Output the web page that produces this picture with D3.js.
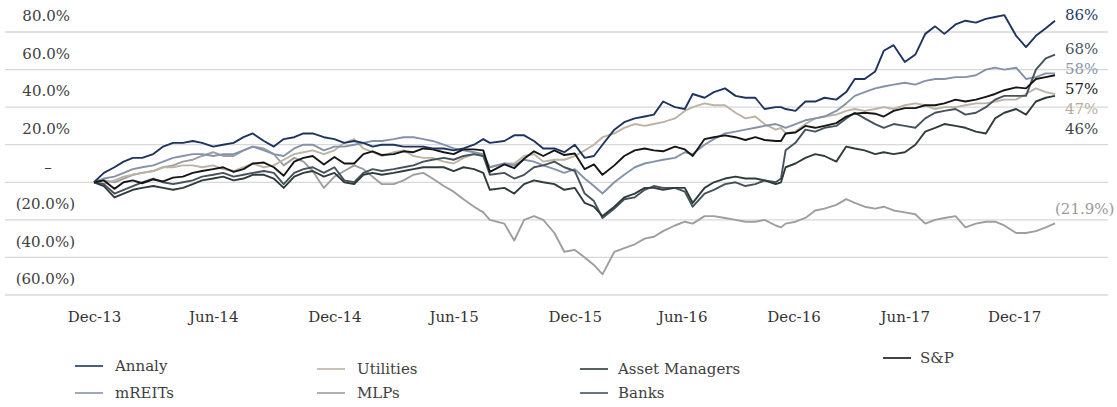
<!DOCTYPE html>
<html><head><meta charset="utf-8">
<script src="https://cdn.jsdelivr.net/npm/d3@7/dist/d3.min.js"></script>
<style>
body{margin:0;background:#fff}
svg{display:block}
text{font-family:"DejaVu Serif",serif;font-size:15px}
</style>
</head><body>
<svg id="chart" width="1117" height="407"></svg>
<script>
// ---------- data ----------
const dates = [
"2013-12-31","2014-01-15","2014-01-31","2014-02-14","2014-02-28","2014-03-14","2014-03-31","2014-04-15","2014-04-30","2014-05-15","2014-05-30","2014-06-13","2014-06-30","2014-07-15","2014-07-31","2014-08-15","2014-08-29","2014-09-15","2014-09-30","2014-10-15","2014-10-31","2014-11-14","2014-11-28","2014-12-15","2014-12-31",
"2015-01-15","2015-01-30","2015-02-13","2015-02-27","2015-03-13","2015-03-31","2015-04-15","2015-04-30","2015-05-15","2015-05-29","2015-06-15","2015-06-30","2015-07-15","2015-07-31","2015-08-14","2015-08-24","2015-09-15","2015-09-30","2015-10-15","2015-10-30","2015-11-13","2015-11-30","2015-12-15","2015-12-31",
"2016-01-15","2016-01-29","2016-02-11","2016-02-29","2016-03-15","2016-03-31","2016-04-15","2016-04-29","2016-05-13","2016-05-31","2016-06-15","2016-06-27","2016-07-15","2016-07-29","2016-08-15","2016-08-31","2016-09-15","2016-09-30","2016-10-14","2016-10-31","2016-11-08","2016-11-15","2016-11-30","2016-12-15","2016-12-30",
"2017-01-13","2017-01-31","2017-02-15","2017-02-28","2017-03-15","2017-03-31","2017-04-13","2017-04-28","2017-05-15","2017-05-31","2017-06-15","2017-06-30","2017-07-14","2017-07-31","2017-08-15","2017-08-31","2017-09-15","2017-09-29","2017-10-13","2017-10-31","2017-11-15","2017-11-30","2017-12-15","2017-12-29"
];

const annaly = [
0,5,8,11,13,13,15,19,21,21,22,21,19,20,21,24,26,22,19,23,24,26,26,24,23,
21,22,21,19,20,20,19,19,19,18,18,17,18,20,23,21,22,25,25,22,18,18,16,20,
13,14,20,28,32,34,35,36,43,40,39,47,45,48,50,46,45,45,39,40,40,39,38,43,43,
45,44,48,55,55,59,70,73,64,68,79,83,79,84,86,85,87,88,89,78,72,78,82,86
];
const mreits = [
0,2,3,5,7,8,9,11,13,14,15,15,14,15,15,17,19,17,15,14,18,20,20,17,19,
19,20,21,22,22,23,24,24,23,22,20,18,17,16,15,8,10,9,12,11,9,7,5,7,
2,-2,-6,0,4,8,10,11,12,13,16,15,20,23,26,27,28,29,30,31,30,29,31,33,34,
35,38,42,46,48,50,51,52,53,52,54,55,55,56,56,57,60,61,60,61,55,56,58,58
];
const utilities = [
0,-1,1,3,4,5,6,8,8,9,9,8,9,7,6,8,10,8,9,12,15,16,17,15,17,
21,23,18,16,14,16,17,14,13,13,11,10,13,15,14,8,10,10,14,15,11,12,12,14,
17,20,24,26,29,31,30,31,32,34,38,40,42,41,41,37,34,35,31,28,29,26,27,31,34,
35,36,38,39,38,39,40,39,41,42,41,39,40,40,41,42,42,43,44,44,47,50,48,47
];
const mlps = [
0,1,0,2,4,5,6,8,9,11,12,14,16,14,14,17,19,18,15,9,13,11,6,-3,3,
6,9,7,3,-1,-1,1,4,5,2,-2,-5,-9,-13,-16,-20,-22,-31,-20,-18,-20,-27,-37,-36,
-40,-44,-49,-37,-35,-33,-30,-29,-26,-23,-21,-22,-18,-18,-19,-20,-21,-21,-20,-23,-24,-22,-21,-19,-15,
-14,-12,-9,-11,-13,-14,-13,-15,-16,-17,-22,-20,-19,-18,-24,-22,-21,-21,-23,-27,-27,-26,-24,-21.9
];
const assetManagers = [
0,-2,-8,-6,-4,-3,-2,-3,-4,-3,-1,1,2,3,1,2,4,4,2,-3,3,5,6,3,5,
0,-1,4,5,4,5,6,7,8,8,8,6,8,7,5,-4,-3,-6,-1,1,0,-1,-4,-3,
-11,-13,-18,-13,-8,-6,-3,-3,-4,-3,-3,-11,-3,0,2,3,2,2,1,-1,0,8,10,13,15,
14,11,19,18,17,15,16,15,16,20,27,29,31,30,29,27,26,34,37,39,36,43,45,46
];
const banks = [
0,-1,-6,-4,-2,0,2,0,-1,0,1,3,4,5,3,4,5,6,5,-1,5,7,8,5,8,
1,0,5,7,6,7,8,9,11,12,13,12,14,15,14,4,5,2,4,8,9,11,8,6,
-6,-10,-19,-14,-9,-8,-4,-2,-3,-3,-5,-13,-6,-4,-1,0,-2,-1,1,0,2,17,21,28,27,
29,30,34,37,34,31,29,31,30,29,34,37,38,39,36,37,40,44,46,46,46,60,66,68
];
const sp = [
0,1,-3.5,0,1,-0.5,1.5,0.5,2.5,3,5,6,7,8,5.5,7,10,10.5,8,3.5,11,13,14,9.5,13.5,
10,10,15,16.5,14.5,15,16.5,16,18,17.5,16,15,17.5,17.5,17,5.5,9.5,7.5,12.5,16.5,14,17,14.5,15.3,
7,9.5,4,9,14,17,18,17,16.5,19,17.5,14,23,24,25,24,22.5,24,22.5,22,22,26,26.5,30,29,
30,31.5,35,36.5,37,36.5,35,38,39.5,39.5,41,41,42,44,43,44,45.5,47,49,50.5,50,55,56,57
];

const seriesNames = ["Annaly","mREITs","Utilities","MLPs","Asset Managers","Banks","S&P"];
const seriesValues = [annaly, mreits, utilities, mlps, assetManagers, banks, sp];
const seriesColors = ["#1d3461","#8393a9","#bcb3a2","#9e9e9e","#303c3c","#44525c","#151515"];
const labelColors  = ["#213a68","#8696ac","#b7ad9b","#9a9a9a","#3c4846","#465560","#1a1a1a"];

const yTicks = [80,60,40,20,0,-20,-40,-60];
const xTickLabels = ["Dec-13","Jun-14","Dec-14","Jun-15","Dec-15","Jun-16","Dec-16","Jun-17","Dec-17"];
const xTickDates  = ["2013-12-31","2014-06-30","2014-12-31","2015-06-30","2015-12-31","2016-06-11","2016-11-27","2017-05-15","2017-10-28"];

// ---------- chart ----------
const parse = d3.timeParse("%Y-%m-%d");
const svg = d3.select("#chart");
const x = d3.scaleTime().domain([parse(dates[0]), parse(dates[dates.length-1])]).range([94, 1055]);
const y = d3.scaleLinear().domain([-60, 80]).range([295, 32]);

// gridlines
svg.append("g").selectAll("line").data(yTicks).join("line")
  .attr("x1", 5).attr("x2", 1108)
  .attr("y1", d => y(d)).attr("y2", d => y(d))
  .attr("stroke", "#d8d8d8").attr("stroke-width", 1.3);

// y labels (accounting style, sitting above gridlines)
const fmtY = v => v === 0 ? "–" : v > 0 ? d3.format(".1f")(v) + "%" : "(" + d3.format(".1f")(-v) + "%)";
svg.append("g").selectAll("text").data(yTicks).join("text")
  .attr("x", d => d === 0 ? 48 : (d > 0 ? 70 : 75))
  .attr("y", d => y(d) - 16)
  .attr("dy", "0.35em")
  .attr("text-anchor", d => d === 0 ? "middle" : "end")
  .attr("fill", "#404040")
  .text(fmtY);

// x axis labels
const xAxis = d3.axisBottom(x)
  .tickValues(xTickDates.map(parse))
  .tickFormat((d, i) => xTickLabels[i])
  .tickSize(0).tickPadding(0);
const gx = svg.append("g").attr("transform", "translate(0,312)").call(xAxis);
gx.select(".domain").remove();
gx.selectAll("text").attr("font-family", "DejaVu Serif").attr("font-size", 15).attr("fill", "#333").attr("dy", "0.35em").attr("y", 5);

// lines
const line = d3.line().x((d, i) => x(parse(dates[i]))).y(d => y(d));
const drawOrder = [3, 2, 1, 5, 4, 6, 0];
svg.append("g").selectAll("path").data(drawOrder).join("path")
  .attr("d", i => line(seriesValues[i]))
  .attr("fill", "none")
  .attr("stroke", i => seriesColors[i])
  .attr("stroke-width", 1.9)
  .attr("stroke-linejoin", "round");

// end labels with simple de-overlap
const ends = seriesValues.map((v, i) => ({i, v: v[v.length - 1]}))
  .filter(d => d.v >= 0).sort((a, b) => b.v - a.v);
let prev = -Infinity;
ends.forEach(d => { let yy = y(d.v) - 6; if (yy < prev + 20) yy = prev + 20; d.y = yy; prev = yy; });
const fmtEnd = v => v >= 0 ? Math.round(v) + "%" : "(" + d3.format(".1f")(-v) + "%)";
svg.append("g").selectAll("text").data(ends).join("text")
  .attr("x", 1065).attr("y", d => d.y).attr("dy", "0.35em")
  .attr("fill", d => labelColors[d.i]).text(d => fmtEnd(d.v));
const negEnds = seriesValues.map((v, i) => ({i, v: v[v.length - 1]})).filter(d => d.v < 0);
svg.append("g").selectAll("text").data(negEnds).join("text")
  .attr("x", 1055).attr("y", d => y(d.v) - 15).attr("dy", "0.35em")
  .attr("fill", d => labelColors[d.i]).text(d => fmtEnd(d.v));

// legend
const legendPos = [
  {lx: 75, tx: 115, y: 366},  // Annaly
  {lx: 75, tx: 115, y: 393},  // mREITs
  {lx: 317, tx: 357, y: 369}, // Utilities
  {lx: 317, tx: 357, y: 393}, // MLPs
  {lx: 580, tx: 618, y: 369}, // Asset Managers
  {lx: 580, tx: 618, y: 393}, // Banks
  {lx: 883, tx: 920, y: 358}  // S&P
];
const lg = svg.append("g").selectAll("g").data(seriesNames).join("g");
lg.append("line")
  .attr("x1", (d, i) => legendPos[i].lx).attr("x2", (d, i) => legendPos[i].lx + 28)
  .attr("y1", (d, i) => legendPos[i].y).attr("y2", (d, i) => legendPos[i].y)
  .attr("stroke", (d, i) => seriesColors[i]).attr("stroke-width", 1.6);
lg.append("text")
  .attr("x", (d, i) => legendPos[i].tx).attr("y", (d, i) => legendPos[i].y).attr("dy", "0.35em")
  .attr("fill", "#404040").text(d => d);
</script>
</body></html>
